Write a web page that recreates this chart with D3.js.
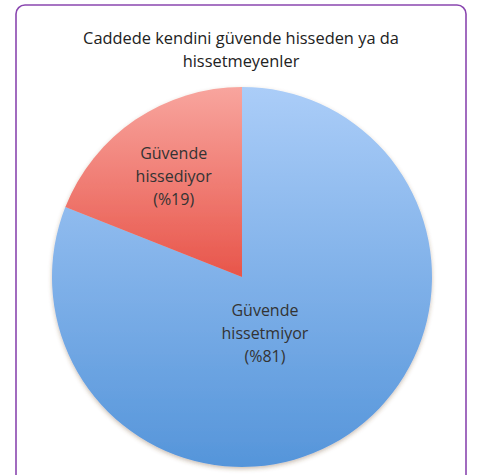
<!DOCTYPE html>
<html>
<head>
<meta charset="utf-8">
<script src="https://cdn.jsdelivr.net/npm/d3@7"></script>
<style>
  body { margin: 0; background: #fff; }
  svg { display: block; font-family: "Open Sans", "Noto Sans", sans-serif; }
</style>
</head>
<body>
<svg id="chart" width="480" height="475"></svg>
<script>
// chart data
var titleLines = ["Caddede kendini güvende hisseden ya da", "hissetmeyenler"];
var categories = ["Güvende hissetmiyor", "Güvende hissediyor"];
var labelLines = [["Güvende", "hissetmiyor", "(%81)"], ["Güvende", "hissediyor", "(%19)"]];
var values = [81, 19];
var colorsTop = ["#abcdf8", "#f8a59e"];
var colorsBottom = ["#5595da", "#e8554a"];

var svg = d3.select('#chart');
var cx = 242, cy = 277, radius = 190;

// purple frame, open at the bottom of the picture
svg.append('rect')
  .attr('x', 16).attr('y', 5)
  .attr('width', 450).attr('height', 520)
  .attr('rx', 9)
  .attr('fill', 'none')
  .attr('stroke', '#8a47b0')
  .attr('stroke-width', 1.6);

svg.selectAll('.title')
  .data(titleLines)
  .enter()
  .append('text')
  .attr('class', 'title')
  .attr('x', 241)
  .attr('y', (d, i) => 44 + i * 23)
  .attr('text-anchor', 'middle')
  .attr('font-size', 16.4)
  .attr('fill', '#222')
  .text(d => d);

var defs = svg.append('defs');

defs.append('filter')
  .attr('id', 'shadow')
  .attr('x', '-10%').attr('y', '-10%')
  .attr('width', '120%').attr('height', '120%')
  .append('feDropShadow')
  .attr('dx', 0).attr('dy', 2)
  .attr('stdDeviation', 2)
  .attr('flood-color', '#6b4a2a')
  .attr('flood-opacity', 0.35);

categories.forEach(function(c, i) {
  var g = defs.append('linearGradient')
    .attr('id', 'grad' + i)
    .attr('x1', 0).attr('y1', 0)
    .attr('x2', 0).attr('y2', 1);
  g.append('stop').attr('offset', '0%').attr('stop-color', colorsTop[i]);
  g.append('stop').attr('offset', '100%').attr('stop-color', colorsBottom[i]);
});

var pie = d3.pie().sort(null).value(d => d);
var arcs = pie(values);
var arc = d3.arc().innerRadius(0).outerRadius(radius);

var g = svg.append('g')
  .attr('transform', `translate(${cx},${cy})`);

g.append('g')
  .attr('filter', 'url(#shadow)')
  .selectAll('path')
  .data(arcs)
  .enter()
  .append('path')
  .attr('d', arc)
  .attr('fill', (d, i) => `url(#grad${i})`);

// label placement, roughly where the spreadsheet put them
var labelRadius = [0.32, 0.64];
var labelTurn = [0.21, 0];

g.selectAll('.lbl')
  .data(arcs)
  .enter()
  .append('text')
  .attr('class', 'lbl')
  .attr('text-anchor', 'middle')
  .attr('font-size', 16)
  .attr('fill', '#333')
  .each(function(d, i) {
    var mid = (d.startAngle + d.endAngle) / 2 + labelTurn[i];
    var p = d3.pointRadial(mid, radius * labelRadius[i]);
    var t = d3.select(this);
    labelLines[i].forEach(function(line, j) {
      t.append('tspan')
        .attr('x', p[0])
        .attr('y', p[1] + 6 + (j - 1) * 23)
        .text(line);
    });
  });
</script>
</body>
</html>
